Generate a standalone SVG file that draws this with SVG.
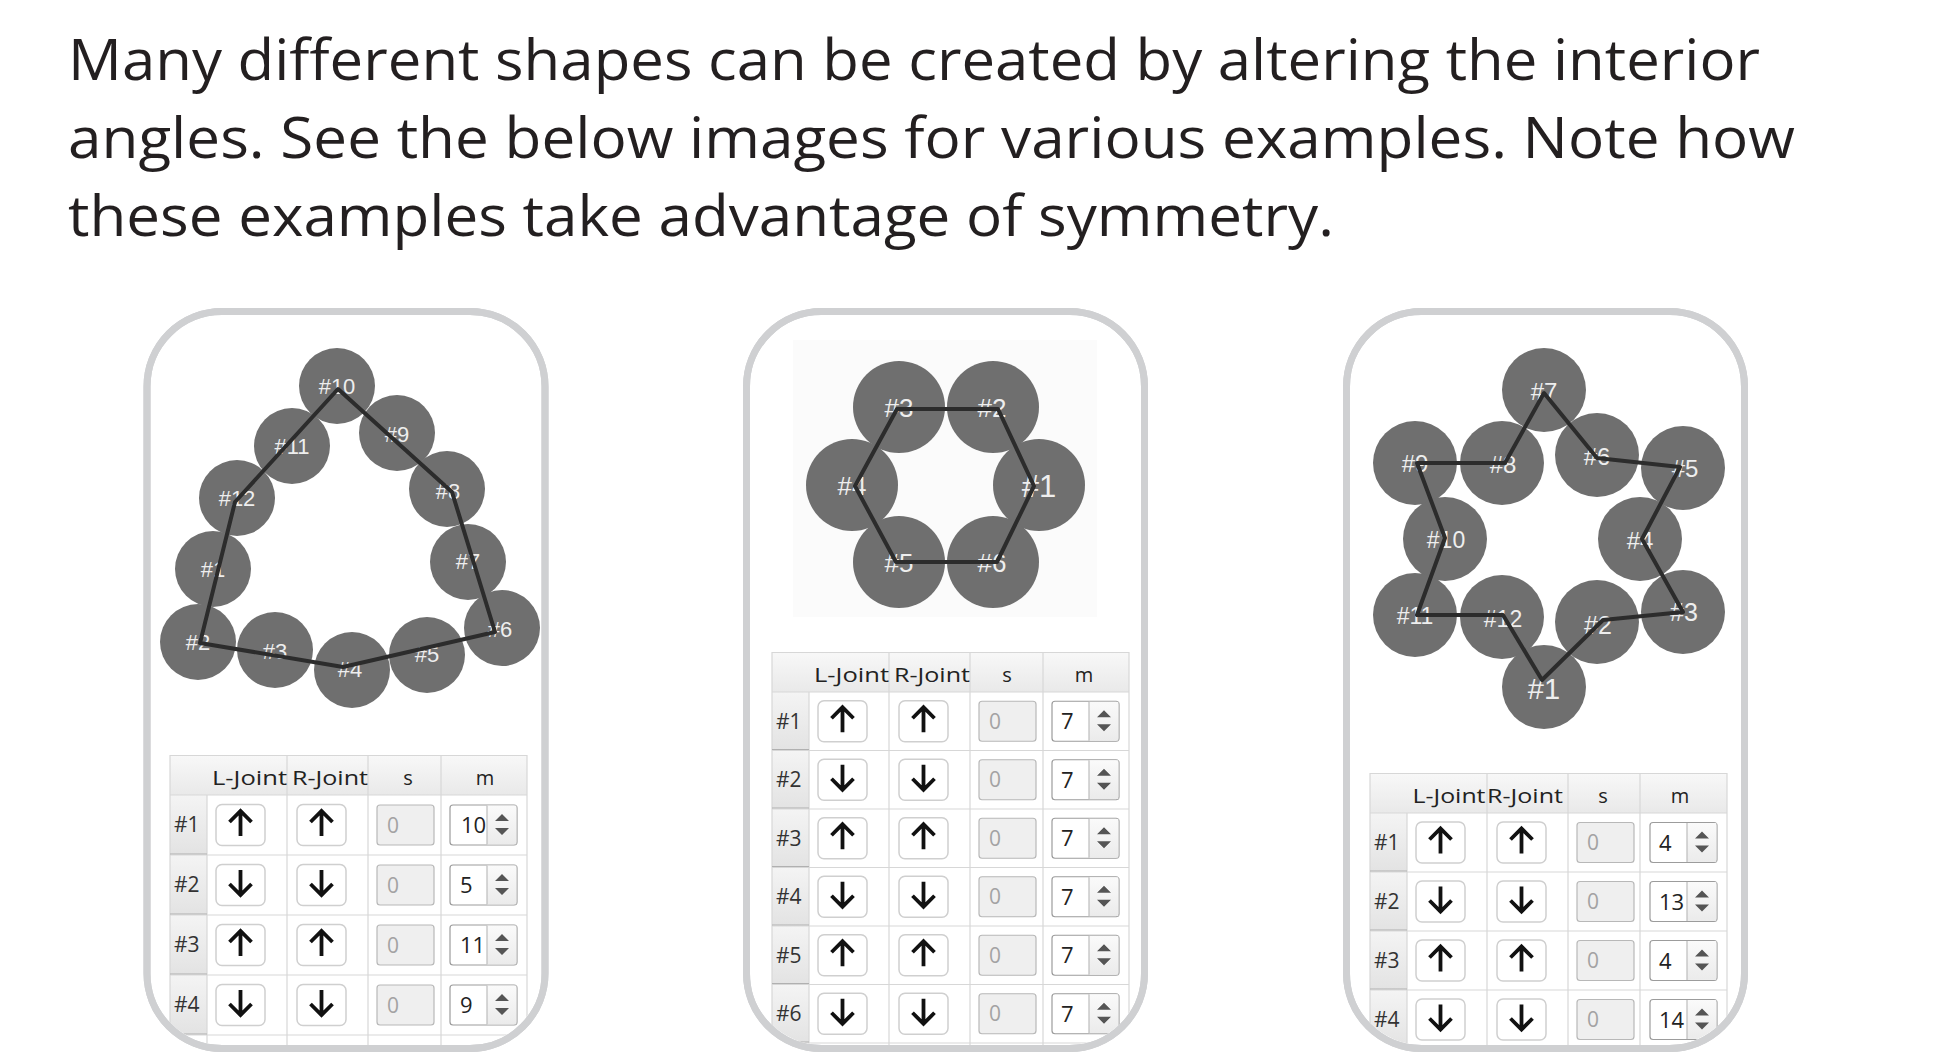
<svg xmlns="http://www.w3.org/2000/svg" xmlns:xlink="http://www.w3.org/1999/xlink" width="1945" height="1061" viewBox="0 0 1945 1061">
<style>
.title{font-family:"Open Sans","Noto Sans",sans-serif;font-size:57px;fill:#231f20}
.panel{fill:#fff;stroke:#cfd0d2;stroke-width:7}
.panelEdge{fill:none;stroke:#cfd0d2;stroke-width:7}
.pic{fill:#fbfbfb}
.circ{fill:#6f6f6f}
.lbl{font-family:"Liberation Sans",Arial,sans-serif;fill:#eeeeee;text-anchor:middle}
.link{fill:none;stroke:#2c2c2c;stroke-width:4;stroke-linejoin:round}
.th{font-family:"Open Sans","Noto Sans",sans-serif;font-size:20px;fill:#222;text-anchor:middle}
.rl{font-family:"Open Sans","Noto Sans",sans-serif;font-size:21px;fill:#333}
.btn{fill:#fff;stroke:#cfcfcf;stroke-width:1.5}
.arr{fill:none;stroke:#111;stroke-width:3.8}
.sf{fill:#efefef;stroke:#b8b8b8;stroke-width:1.2}
.zero{font-family:"Open Sans","Noto Sans",sans-serif;font-size:21px;fill:#a3a3a3}
.mf{fill:#fff;stroke:#9c9c9c;stroke-width:1.2}
.val{font-family:"Open Sans","Noto Sans",sans-serif;font-size:22px;fill:#222}
.grid{stroke:#d7d7d7;stroke-width:1.2}
.rhb{stroke:#b0b0b0;stroke-width:1.2}
</style>
<defs>
<linearGradient id="hdr" x1="0" y1="0" x2="0" y2="1"><stop offset="0" stop-color="#f8f8f8"/><stop offset="1" stop-color="#e9e9e9"/></linearGradient>
<linearGradient id="rhg" x1="0" y1="0" x2="0" y2="1"><stop offset="0" stop-color="#f4f4f4"/><stop offset="1" stop-color="#e3e3e3"/></linearGradient>
<linearGradient id="spg" x1="0" y1="0" x2="0" y2="1"><stop offset="0" stop-color="#fafafa"/><stop offset="1" stop-color="#ebebeb"/></linearGradient>
<clipPath id="clip1"><rect x="150.5" y="315" width="391" height="730" rx="72"/></clipPath>
<clipPath id="clip2"><rect x="750" y="315" width="391" height="730" rx="72"/></clipPath>
<clipPath id="clip3"><rect x="1350" y="315" width="391" height="730" rx="72"/></clipPath>
<path id="aUp" class="arr" d="M0,-14 V11 M-11,-3 L0,-14 L11,-3"/>
<path id="aDn" class="arr" d="M0,-15 V10 M-11,-1 L0,10 L11,-1"/>
<g id="rowUp">
<rect class="btn" x="46" y="-20.5" width="49" height="41" rx="6"/>
<use xlink:href="#aUp" href="#aUp" x="70.5" y="0"/>
<rect class="btn" x="127" y="-20.5" width="49" height="41" rx="6"/>
<use xlink:href="#aUp" href="#aUp" x="151.5" y="0"/>
<rect class="sf" x="207" y="-20" width="57" height="40" rx="3"/>
<text class="zero" x="217" y="7.5">0</text>
<rect class="mf" x="280" y="-20" width="67" height="40" rx="3"/>
</g>
<g id="rowDn">
<rect class="btn" x="46" y="-20.5" width="49" height="41" rx="6"/>
<use xlink:href="#aDn" href="#aDn" x="70.5" y="0"/>
<rect class="btn" x="127" y="-20.5" width="49" height="41" rx="6"/>
<use xlink:href="#aDn" href="#aDn" x="151.5" y="0"/>
<rect class="sf" x="207" y="-20" width="57" height="40" rx="3"/>
<text class="zero" x="217" y="7.5">0</text>
<rect class="mf" x="280" y="-20" width="67" height="40" rx="3"/>
</g>
<g id="spin">
<rect x="317" y="-19.4" width="29.4" height="38.8" fill="url(#spg)"/>
<line x1="317" y1="-19.4" x2="317" y2="19.4" stroke="#bdbdbd" stroke-width="1.2"/>
<path d="M325,-4 L332,-11 L339,-4 Z M325,3 L332,10 L339,3 Z" fill="#555"/>
</g>
</defs>

<rect x="0" y="0" width="1945" height="1061" fill="#ffffff"/>

<g id="title">
<text class="title" x="68" y="80" textLength="1692" lengthAdjust="spacingAndGlyphs">Many different shapes can be created by altering the interior</text>
<text class="title" x="68" y="158" textLength="1727" lengthAdjust="spacingAndGlyphs">angles. See the below images for various examples. Note how</text>
<text class="title" x="68" y="236" textLength="1266" lengthAdjust="spacingAndGlyphs">these examples take advantage of symmetry.</text>
</g>

<!-- Panel 1 -->
<g id="panel1">
<rect class="panel" x="147" y="311.5" width="398" height="737" rx="75"/>
<g clip-path="url(#clip1)">
<g id="p1-nodes">
<g id="p1-n10"><circle class="circ" cx="337" cy="386" r="38"/><text class="lbl" x="337" y="394" font-size="22">#10</text></g>
<g id="p1-n11"><circle class="circ" cx="292" cy="446" r="38"/><text class="lbl" x="292" y="454" font-size="22">#11</text></g>
<g id="p1-n9"><circle class="circ" cx="397" cy="433" r="38"/><text class="lbl" x="397" y="442" font-size="22">#9</text></g>
<g id="p1-n12"><circle class="circ" cx="237" cy="498" r="38"/><text class="lbl" x="237" y="506" font-size="22">#12</text></g>
<g id="p1-n8"><circle class="circ" cx="447" cy="489" r="38"/><text class="lbl" x="448" y="499" font-size="22">#8</text></g>
<g id="p1-n1"><circle class="circ" cx="213" cy="569" r="38"/><text class="lbl" x="213" y="577" font-size="22">#1</text></g>
<g id="p1-n7"><circle class="circ" cx="468" cy="562" r="38"/><text class="lbl" x="468" y="569" font-size="22">#7</text></g>
<g id="p1-n2"><circle class="circ" cx="198" cy="642" r="38"/><text class="lbl" x="198" y="650" font-size="22">#2</text></g>
<g id="p1-n6"><circle class="circ" cx="502" cy="628" r="38"/><text class="lbl" x="500" y="637" font-size="22">#6</text></g>
<g id="p1-n3"><circle class="circ" cx="275" cy="650" r="38"/><text class="lbl" x="275" y="659" font-size="22">#3</text></g>
<g id="p1-n4"><circle class="circ" cx="352" cy="670" r="38"/><text class="lbl" x="350" y="677" font-size="22">#4</text></g>
<g id="p1-n5"><circle class="circ" cx="427" cy="655" r="38"/><text class="lbl" x="427" y="662" font-size="22">#5</text></g>
</g>
<g id="p1-links">
<polygon class="link" points="338,389 235,502 200,643 343,667 495,632 452,492"/>
</g>
<g id="p1-table" transform="translate(170,755)">
<rect x="0" y="0" width="357" height="40" fill="url(#hdr)"/>
<rect x="0" y="40" width="37" height="59" fill="url(#rhg)"/>
<rect x="0" y="100" width="37" height="59" fill="url(#rhg)"/>
<rect x="0" y="160" width="37" height="59" fill="url(#rhg)"/>
<rect x="0" y="220" width="37" height="59" fill="url(#rhg)"/>
<path class="grid" d="M0,0.5 H357 M0,40 H357 M0,100 H357 M0,160 H357 M0,220 H357 M0,280 H357 M37,40 V300 M117,0 V300 M198,0 V300 M271,0 V300 M357,0 V300 M0,0 V300"/>
<path class="rhb" d="M0,99 H37 M0,159 H37 M0,219 H37 M0,279 H37"/>
<text class="th" x="79.5" y="30" textLength="75" lengthAdjust="spacingAndGlyphs">L-Joint</text>
<text class="th" x="160" y="30" textLength="76" lengthAdjust="spacingAndGlyphs">R-Joint</text>
<text class="th" x="238" y="30">s</text>
<text class="th" x="315" y="30">m</text>
<text class="rl" x="4" y="77">#1</text>
<text class="rl" x="4" y="137">#2</text>
<text class="rl" x="4" y="197">#3</text>
<text class="rl" x="4" y="257">#4</text>
<use xlink:href="#rowUp" href="#rowUp" x="0" y="70"/>
<use xlink:href="#rowDn" href="#rowDn" x="0" y="130"/>
<use xlink:href="#rowUp" href="#rowUp" x="0" y="190"/>
<use xlink:href="#rowDn" href="#rowDn" x="0" y="250"/>
<text class="val" x="291" y="78" font-size="23">10</text>
<text class="val" x="290" y="138">5</text>
<text class="val" x="290" y="198">11</text>
<text class="val" x="290" y="258">9</text>
<use xlink:href="#spin" href="#spin" x="0" y="70"/>
<use xlink:href="#spin" href="#spin" x="0" y="130"/>
<use xlink:href="#spin" href="#spin" x="0" y="190"/>
<use xlink:href="#spin" href="#spin" x="0" y="250"/>
</g>
</g>
<rect class="panelEdge" x="147" y="311.5" width="398" height="737" rx="75"/>
</g>

<!-- Panel 2 -->
<g id="panel2">
<rect class="panel" x="746.5" y="311.5" width="398" height="737" rx="75"/>
<g clip-path="url(#clip2)">
<rect class="pic" x="793" y="340" width="304" height="277"/>
<g id="p2-nodes">
<g id="p2-n3"><circle class="circ" cx="899" cy="407" r="46"/><text class="lbl" x="899" y="417" font-size="26">#3</text></g>
<g id="p2-n2"><circle class="circ" cx="993" cy="407" r="46"/><text class="lbl" x="992" y="417" font-size="26">#2</text></g>
<g id="p2-n4"><circle class="circ" cx="852" cy="485" r="46"/><text class="lbl" x="852" y="495" font-size="26">#4</text></g>
<g id="p2-n1"><circle class="circ" cx="1039" cy="485" r="46"/><text class="lbl" x="1039" y="497" font-size="31">#1</text></g>
<g id="p2-n5"><circle class="circ" cx="899" cy="562" r="46"/><text class="lbl" x="899" y="572" font-size="26">#5</text></g>
<g id="p2-n6"><circle class="circ" cx="993" cy="562" r="46"/><text class="lbl" x="992" y="572" font-size="26">#6</text></g>
</g>
<g id="p2-links">
<polygon class="link" points="1034,486 998,409 897,409 855,486 896,562 997,562"/>
</g>
<g id="p2-table" transform="translate(772,652)">
<rect x="0" y="0" width="357" height="40" fill="url(#hdr)"/>
<rect x="0" y="40" width="37" height="57.5" fill="url(#rhg)"/>
<rect x="0" y="98.5" width="37" height="57.5" fill="url(#rhg)"/>
<rect x="0" y="157" width="37" height="57.5" fill="url(#rhg)"/>
<rect x="0" y="215.5" width="37" height="57.5" fill="url(#rhg)"/>
<rect x="0" y="274" width="37" height="57.5" fill="url(#rhg)"/>
<rect x="0" y="332.5" width="37" height="57.5" fill="url(#rhg)"/>
<path class="grid" d="M0,0.5 H357 M0,40 H357 M0,98.5 H357 M0,157 H357 M0,215.5 H357 M0,274 H357 M0,332.5 H357 M0,391 H357 M37,40 V400 M117,0 V400 M198,0 V400 M271,0 V400 M357,0 V400 M0,0 V400"/>
<path class="rhb" d="M0,97.5 H37 M0,156 H37 M0,214.5 H37 M0,273 H37 M0,331.5 H37 M0,390 H37"/>
<text class="th" x="79.5" y="30" textLength="75" lengthAdjust="spacingAndGlyphs">L-Joint</text>
<text class="th" x="160" y="30" textLength="76" lengthAdjust="spacingAndGlyphs">R-Joint</text>
<text class="th" x="235" y="30">s</text>
<text class="th" x="312" y="30">m</text>
<text class="rl" x="4" y="76.5">#1</text>
<text class="rl" x="4" y="135">#2</text>
<text class="rl" x="4" y="193.5">#3</text>
<text class="rl" x="4" y="252">#4</text>
<text class="rl" x="4" y="310.5">#5</text>
<text class="rl" x="4" y="369">#6</text>
<use xlink:href="#rowUp" href="#rowUp" x="0" y="69.25"/>
<use xlink:href="#rowDn" href="#rowDn" x="0" y="127.75"/>
<use xlink:href="#rowUp" href="#rowUp" x="0" y="186.25"/>
<use xlink:href="#rowDn" href="#rowDn" x="0" y="244.75"/>
<use xlink:href="#rowUp" href="#rowUp" x="0" y="303.25"/>
<use xlink:href="#rowDn" href="#rowDn" x="0" y="361.75"/>
<text class="val" x="289" y="77">7</text>
<text class="val" x="289" y="135.5">7</text>
<text class="val" x="289" y="194">7</text>
<text class="val" x="289" y="252.5">7</text>
<text class="val" x="289" y="311">7</text>
<text class="val" x="289" y="369.5">7</text>
<use xlink:href="#spin" href="#spin" x="0" y="69.25"/>
<use xlink:href="#spin" href="#spin" x="0" y="127.75"/>
<use xlink:href="#spin" href="#spin" x="0" y="186.25"/>
<use xlink:href="#spin" href="#spin" x="0" y="244.75"/>
<use xlink:href="#spin" href="#spin" x="0" y="303.25"/>
<use xlink:href="#spin" href="#spin" x="0" y="361.75"/>
</g>
</g>
<rect class="panelEdge" x="746.5" y="311.5" width="398" height="737" rx="75"/>
</g>

<!-- Panel 3 -->
<g id="panel3">
<rect class="panel" x="1346.5" y="311.5" width="398" height="737" rx="75"/>
<g clip-path="url(#clip3)">
<g id="p3-nodes">
<g id="p3-n7"><circle class="circ" cx="1544" cy="390" r="42"/><text class="lbl" x="1544" y="400" font-size="24">#7</text></g>
<g id="p3-n8"><circle class="circ" cx="1502" cy="463" r="42"/><text class="lbl" x="1503" y="473" font-size="24">#8</text></g>
<g id="p3-n9"><circle class="circ" cx="1415" cy="463" r="42"/><text class="lbl" x="1415" y="472" font-size="24">#9</text></g>
<g id="p3-n6"><circle class="circ" cx="1597" cy="455" r="42"/><text class="lbl" x="1597" y="465" font-size="24">#6</text></g>
<g id="p3-n5"><circle class="circ" cx="1683" cy="468" r="42"/><text class="lbl" x="1685" y="477" font-size="24">#5</text></g>
<g id="p3-n10"><circle class="circ" cx="1445" cy="539" r="42"/><text class="lbl" x="1446" y="548" font-size="23">#10</text></g>
<g id="p3-n4"><circle class="circ" cx="1640" cy="539" r="42"/><text class="lbl" x="1640" y="549" font-size="24">#4</text></g>
<g id="p3-n11"><circle class="circ" cx="1415" cy="615" r="42"/><text class="lbl" x="1415" y="624" font-size="23">#11</text></g>
<g id="p3-n12"><circle class="circ" cx="1502" cy="617" r="42"/><text class="lbl" x="1503" y="627" font-size="23">#12</text></g>
<g id="p3-n2"><circle class="circ" cx="1597" cy="622" r="42"/><text class="lbl" x="1598" y="634" font-size="25">#2</text></g>
<g id="p3-n3"><circle class="circ" cx="1683" cy="612" r="42"/><text class="lbl" x="1684" y="621" font-size="25">#3</text></g>
<g id="p3-n1"><circle class="circ" cx="1544" cy="687" r="42"/><text class="lbl" x="1544" y="699" font-size="29">#1</text></g>
</g>
<g id="p3-links">
<polygon class="link" points="1544,393 1505,463 1417,463 1445,538 1417,615 1503,615 1542,680 1603,620 1683,612 1642,539 1680,467 1597,458"/>
</g>
<g id="p3-table" transform="translate(1370,773)">
<rect x="0" y="0" width="357" height="40" fill="url(#hdr)"/>
<rect x="0" y="40" width="37" height="58" fill="url(#rhg)"/>
<rect x="0" y="99" width="37" height="58" fill="url(#rhg)"/>
<rect x="0" y="158" width="37" height="58" fill="url(#rhg)"/>
<rect x="0" y="217" width="37" height="58" fill="url(#rhg)"/>
<path class="grid" d="M0,0.5 H357 M0,40 H357 M0,99 H357 M0,158 H357 M0,217 H357 M0,276 H357 M37,40 V300 M117,0 V300 M198,0 V300 M270,0 V300 M357,0 V300 M0,0 V300"/>
<path class="rhb" d="M0,98 H37 M0,157 H37 M0,216 H37 M0,275 H37"/>
<text class="th" x="79" y="30" textLength="73" lengthAdjust="spacingAndGlyphs">L-Joint</text>
<text class="th" x="155" y="30" textLength="76" lengthAdjust="spacingAndGlyphs">R-Joint</text>
<text class="th" x="233" y="30">s</text>
<text class="th" x="310" y="30">m</text>
<text class="rl" x="4" y="76.5">#1</text>
<text class="rl" x="4" y="135.5">#2</text>
<text class="rl" x="4" y="194.5">#3</text>
<text class="rl" x="4" y="253.5">#4</text>
<use xlink:href="#rowUp" href="#rowUp" x="0" y="69.5"/>
<use xlink:href="#rowDn" href="#rowDn" x="0" y="128.5"/>
<use xlink:href="#rowUp" href="#rowUp" x="0" y="187.5"/>
<use xlink:href="#rowDn" href="#rowDn" x="0" y="246.5"/>
<text class="val" x="289" y="77.5">4</text>
<text class="val" x="289" y="136.5" font-size="23">13</text>
<text class="val" x="289" y="195.5">4</text>
<text class="val" x="289" y="254.5">14</text>
<use xlink:href="#spin" href="#spin" x="0" y="69.5"/>
<use xlink:href="#spin" href="#spin" x="0" y="128.5"/>
<use xlink:href="#spin" href="#spin" x="0" y="187.5"/>
<use xlink:href="#spin" href="#spin" x="0" y="246.5"/>
</g>
</g>
<rect class="panelEdge" x="1346.5" y="311.5" width="398" height="737" rx="75"/>
</g>
</svg>
